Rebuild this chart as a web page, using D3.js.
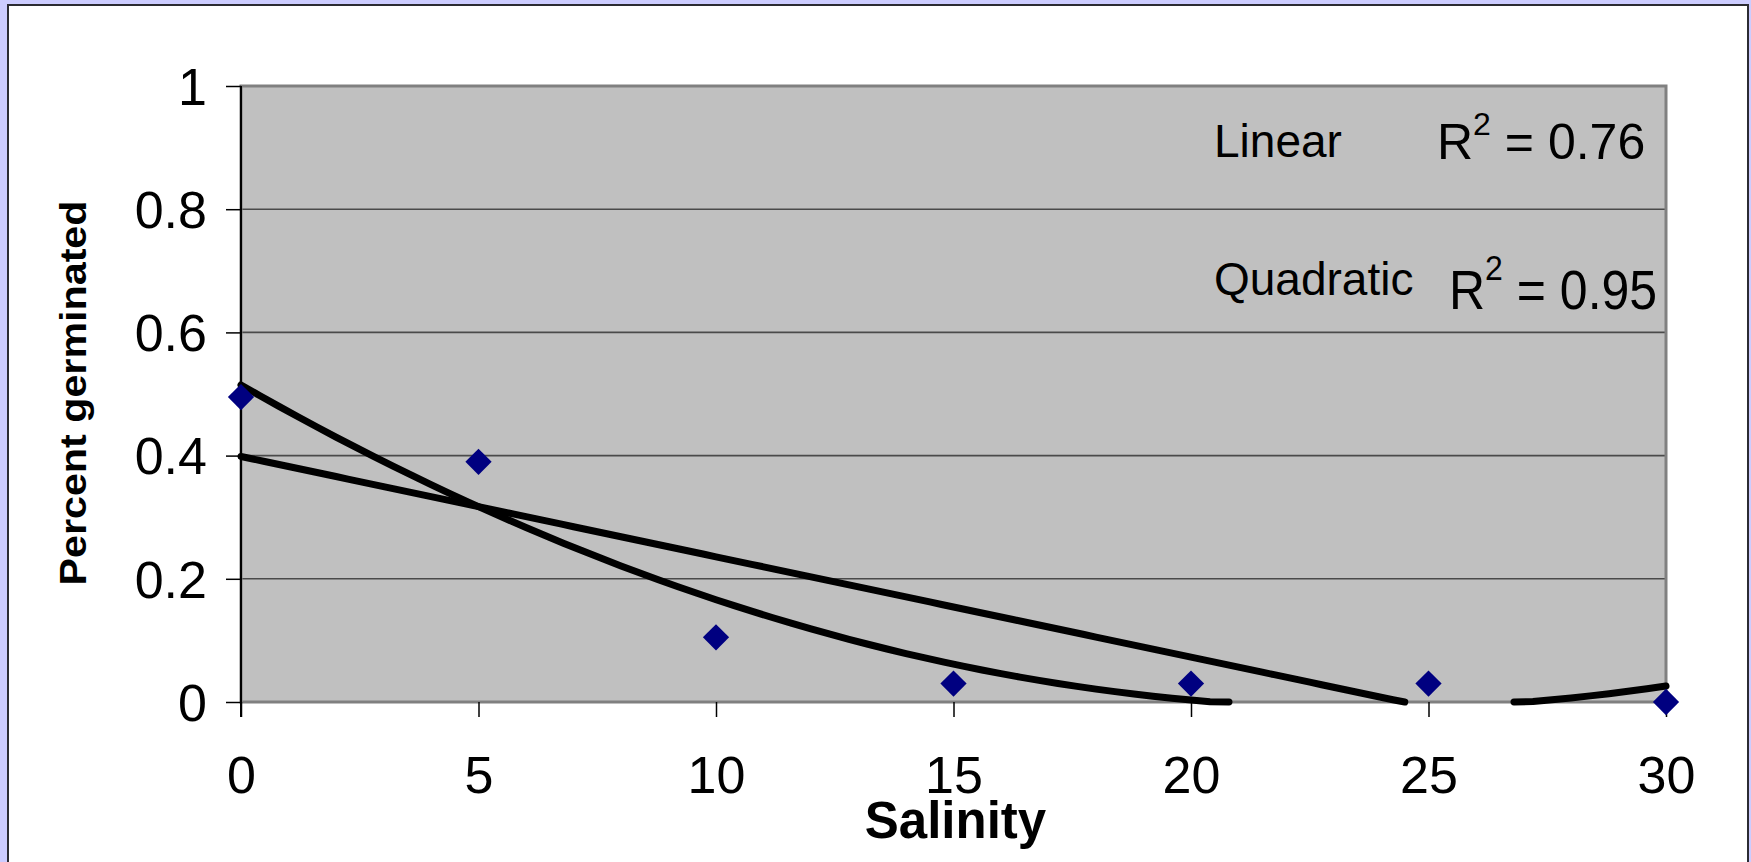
<!DOCTYPE html>
<html>
<head>
<meta charset="utf-8">
<script src="https://cdn.jsdelivr.net/npm/d3@7/dist/d3.min.js"></script>
<style>
  html, body { margin: 0; padding: 0; background: #ccccff; }
  svg { display: block; font-family: "Liberation Sans", Arial, sans-serif; }
</style>
</head>
<body>
<svg id="chart" width="1751" height="862"></svg>
<script>
// Germination proportion measured at each salinity level
const salinity = [0, 5, 10, 15, 20, 25, 30];
const germinated = [0.495, 0.39, 0.105, 0.03, 0.03, 0.03, 0];

// Axis ticks
const xTicks = [0, 5, 10, 15, 20, 25, 30];
const yTicks = [0, 0.2, 0.4, 0.6, 0.8, 1];

// Trend-line annotations
const fitNames = ["Linear", "Quadratic"];
const fitR2 = ["0.76", "0.95"];

const svg = d3.select("#chart");
const W = 1751, H = 862;

// panel and plot geometry
const plot = { left: 241, right: 1666, top: 86, bottom: 702 };

const x = d3.scaleLinear().domain([0, 30]).range([plot.left, plot.right]);
const y = d3.scaleLinear().domain([0, 1]).range([plot.bottom, plot.top]);

// outer white panel
svg.append("rect").attr("x", 0).attr("y", 0).attr("width", W).attr("height", H).attr("fill", "#ccccff");
svg.append("rect")
  .attr("x", 8).attr("y", 5).attr("width", 1740).attr("height", 880)
  .attr("fill", "#ffffff").attr("stroke", "#2b2b33").attr("stroke-width", 2);

// plot area
svg.append("rect")
  .attr("x", plot.left).attr("y", plot.top)
  .attr("width", plot.right - plot.left).attr("height", plot.bottom - plot.top)
  .attr("fill", "#c0c0c0");

// horizontal gridlines
svg.append("g").selectAll("line")
  .data(yTicks.filter(d => d > 0 && d < 1))
  .join("line")
  .attr("x1", plot.left).attr("x2", plot.right)
  .attr("y1", d => y(d)).attr("y2", d => y(d))
  .attr("stroke", "#4a4a4a").attr("stroke-width", 1.6);

// plot border
svg.append("rect")
  .attr("x", plot.left).attr("y", plot.top)
  .attr("width", plot.right - plot.left).attr("height", plot.bottom - plot.top)
  .attr("fill", "none").attr("stroke", "#808080").attr("stroke-width", 3);

// y axis
const yAxis = d3.axisLeft(y).tickValues(yTicks).tickSize(15).tickPadding(19)
  .tickFormat(d => String(d));
const gy = svg.append("g").attr("transform", `translate(${plot.left},0)`).call(yAxis);
gy.select(".domain").remove();
gy.selectAll(".tick line").attr("stroke", "#000").attr("stroke-width", 1.5);
gy.selectAll(".tick text")
  .attr("font-size", 52).attr("fill", "#000")
  .attr("font-family", "'Liberation Sans', Arial, sans-serif")
  .attr("dy", "0.35em");

// x axis
const xAxis = d3.axisBottom(x).tickValues(xTicks).tickSize(15).tickPadding(0)
  .tickFormat(d => String(d));
const gx = svg.append("g").attr("transform", `translate(0,${plot.bottom})`).call(xAxis);
gx.select(".domain").remove();
gx.selectAll(".tick line").attr("stroke", "#000").attr("stroke-width", 1.5);
gx.selectAll(".tick text")
  .attr("font-size", 52).attr("fill", "#000")
  .attr("font-family", "'Liberation Sans', Arial, sans-serif")
  .attr("y", 91).attr("dy", 0);

// left axis line
svg.append("line")
  .attr("x1", plot.left).attr("x2", plot.left)
  .attr("y1", plot.top).attr("y2", plot.bottom + 15)
  .attr("stroke", "#000").attr("stroke-width", 2);

// axis titles
svg.append("text")
  .attr("x", x(15) + 2).attr("y", 838)
  .attr("text-anchor", "middle")
  .attr("font-size", 51).attr("font-weight", "bold")
  .text("Salinity");

svg.append("text")
  .attr("transform", `translate(86,${(plot.top + plot.bottom) / 2 - 1}) rotate(-90)`)
  .attr("text-anchor", "middle")
  .attr("font-size", 36).attr("font-weight", "bold")
  .attr("textLength", 385).attr("lengthAdjust", "spacingAndGlyphs")
  .text("Percent germinated");

// least-squares fits from the observations
const n = salinity.length;
const mx = d3.mean(salinity), my = d3.mean(germinated);
const sxy = d3.sum(salinity, (v, i) => (v - mx) * (germinated[i] - my));
const sxx = d3.sum(salinity, v => (v - mx) ** 2);
const linSlope = sxy / sxx;
const linIntercept = my - linSlope * mx;
const linear = v => linIntercept + linSlope * v;

function solve3(A, b) {
  const M = A.map((row, i) => [...row, b[i]]);
  for (let c = 0; c < 3; c++) {
    let p = c;
    for (let r = c + 1; r < 3; r++) if (Math.abs(M[r][c]) > Math.abs(M[p][c])) p = r;
    [M[c], M[p]] = [M[p], M[c]];
    for (let r = 0; r < 3; r++) {
      if (r === c) continue;
      const f = M[r][c] / M[c][c];
      for (let k = c; k < 4; k++) M[r][k] -= f * M[c][k];
    }
  }
  return M.map((row, i) => row[3] / row[i]);
}
const S = k => d3.sum(salinity, v => v ** k);
const T = k => d3.sum(salinity, (v, i) => v ** k * germinated[i]);
const [q0, q1, q2] = solve3(
  [[n, S(1), S(2)], [S(1), S(2), S(3)], [S(2), S(3), S(4)]],
  [T(0), T(1), T(2)]
);
const quadratic = v => q0 + q1 * v + q2 * v * v;

// sample a fitted curve across the axis range, keeping it on or above zero
function sampleCurve(f, step) {
  const xs = d3.range(0, 30 + step / 2, step);
  const raw = xs.map(v => ({ x: v, y: f(v) }));
  return raw.map((d, i) => {
    const near = d.y >= 0 || (raw[i - 1] && raw[i - 1].y >= 0) || (raw[i + 1] && raw[i + 1].y >= 0);
    return { x: d.x, y: Math.max(0, d.y), on: near };
  });
}

const line = d3.line().defined(d => d.on).x(d => x(d.x)).y(d => y(d.y));

const linPts = sampleCurve(linear, 0.25);
const quadPts = sampleCurve(quadratic, 0.4);

const curves = svg.append("g")
  .attr("fill", "none").attr("stroke", "#000").attr("stroke-width", 7)
  .attr("stroke-linecap", "round").attr("stroke-linejoin", "round");
curves.append("path").attr("d", line(linPts));
curves.append("path").attr("d", line(quadPts));

// observations
const diamond = d3.symbol().type(d3.symbolSquare).size(345);
svg.append("g").selectAll("path")
  .data(salinity.map((v, i) => [v, germinated[i]]))
  .join("path")
  .attr("d", diamond)
  .attr("transform", d => `translate(${x(d[0])},${y(d[1])}) rotate(45)`)
  .attr("fill", "#000080");

// fit annotations
const labelRows = [
  { name: fitNames[0], r2: fitR2[0], nameY: 157, rx: 1437, ry: 159, size: 50, sup: -24, sy: 1 },
  { name: fitNames[1], r2: fitR2[1], nameY: 295, rx: 1449, ry: 309, size: 50, sup: -26, sy: 1.1 }
];
labelRows.forEach(r => {
  svg.append("text")
    .attr("x", 1214).attr("y", r.nameY)
    .attr("font-size", 46)
    .text(r.name);
  const t = svg.append("text")
    .attr("transform", `translate(${r.rx},${r.ry}) scale(1,${r.sy})`)
    .attr("font-size", r.size);
  t.append("tspan").text("R");
  t.append("tspan").attr("font-size", 32).attr("dy", r.sup).text("2");
  t.append("tspan").attr("dy", -r.sup).text(" = " + r.r2);
});
</script>
</body>
</html>
